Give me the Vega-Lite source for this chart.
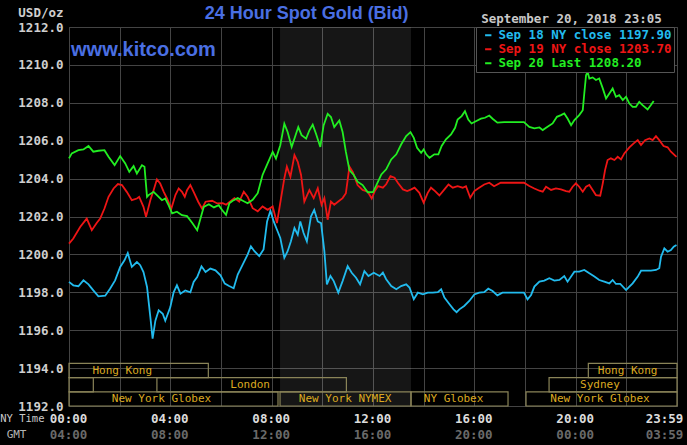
{
"$schema":"https://vega.github.io/schema/vega-lite/v6.json",
"width":608,"height":379,
"autosize":{"type":"none"},
"padding":{"left":69,"top":27,"right":10,"bottom":39},
"background":"#000000",
"config":{"view":{"stroke":"#444444"},"font":"DejaVu Sans Mono"},
"datasets":{
"prices":[
{"s":"18","h":0,"v":1198.55},{"s":"18","h":0.17,"v":1198.37},{"s":"18","h":0.37,"v":1198.32},{"s":"18","h":0.57,"v":1198.63},{"s":"18","h":0.77,"v":1198.42},{"s":"18","h":0.96,"v":1198.1},{"s":"18","h":1.16,"v":1197.79},{"s":"18","h":1.43,"v":1197.82},{"s":"18","h":1.62,"v":1198.19},{"s":"18","h":1.82,"v":1198.63},{"s":"18","h":2.02,"v":1199.34},{"s":"18","h":2.19,"v":1199.69},{"s":"18","h":2.32,"v":1200.07},{"s":"18","h":2.48,"v":1199.34},{"s":"18","h":2.68,"v":1199.6},{"s":"18","h":2.81,"v":1199.43},{"s":"18","h":2.94,"v":1199.07},{"s":"18","h":3.08,"v":1198.28},{"s":"18","h":3.21,"v":1196.7},{"s":"18","h":3.3,"v":1195.55},{"s":"18","h":3.41,"v":1196.5},{"s":"18","h":3.54,"v":1197.05},{"s":"18","h":3.7,"v":1196.87},{"s":"18","h":3.8,"v":1196.5},{"s":"18","h":4.0,"v":1197.22},{"s":"18","h":4.13,"v":1198.0},{"s":"18","h":4.26,"v":1198.37},{"s":"18","h":4.4,"v":1197.93},{"s":"18","h":4.59,"v":1198.1},{"s":"18","h":4.79,"v":1198.0},{"s":"18","h":4.92,"v":1198.55},{"s":"18","h":5.06,"v":1198.8},{"s":"18","h":5.23,"v":1199.37},{"s":"18","h":5.39,"v":1199.07},{"s":"18","h":5.58,"v":1199.25},{"s":"18","h":5.78,"v":1199.16},{"s":"18","h":5.98,"v":1198.9},{"s":"18","h":6.15,"v":1198.46},{"s":"18","h":6.32,"v":1198.33},{"s":"18","h":6.5,"v":1198.21},{"s":"18","h":6.66,"v":1198.94},{"s":"18","h":6.86,"v":1199.47},{"s":"18","h":7.05,"v":1199.99},{"s":"18","h":7.18,"v":1200.43},{"s":"18","h":7.32,"v":1200.17},{"s":"18","h":7.51,"v":1199.91},{"s":"18","h":7.68,"v":1200.26},{"s":"18","h":7.82,"v":1201.74},{"s":"18","h":7.95,"v":1202.3},{"s":"18","h":8.08,"v":1201.74},{"s":"18","h":8.21,"v":1201.3},{"s":"18","h":8.34,"v":1200.87},{"s":"18","h":8.5,"v":1199.82},{"s":"18","h":8.63,"v":1200.17},{"s":"18","h":8.76,"v":1200.69},{"s":"18","h":8.9,"v":1201.39},{"s":"18","h":9.03,"v":1201.04},{"s":"18","h":9.13,"v":1201.74},{"s":"18","h":9.26,"v":1201.13},{"s":"18","h":9.39,"v":1200.69},{"s":"18","h":9.55,"v":1202.0},{"s":"18","h":9.68,"v":1202.35},{"s":"18","h":9.82,"v":1201.74},{"s":"18","h":9.95,"v":1201.65},{"s":"18","h":10.08,"v":1200.17},{"s":"18","h":10.18,"v":1198.42},{"s":"18","h":10.32,"v":1198.86},{"s":"18","h":10.45,"v":1198.59},{"s":"18","h":10.63,"v":1197.98},{"s":"18","h":10.8,"v":1198.59},{"s":"18","h":11.0,"v":1199.38},{"s":"18","h":11.16,"v":1199.03},{"s":"18","h":11.33,"v":1198.77},{"s":"18","h":11.49,"v":1198.42},{"s":"18","h":11.66,"v":1199.12},{"s":"18","h":11.82,"v":1198.86},{"s":"18","h":12.03,"v":1199.03},{"s":"18","h":12.26,"v":1198.86},{"s":"18","h":12.39,"v":1199.04},{"s":"18","h":12.52,"v":1198.69},{"s":"18","h":12.72,"v":1198.33},{"s":"18","h":12.92,"v":1198.16},{"s":"18","h":13.11,"v":1198.33},{"s":"18","h":13.31,"v":1198.42},{"s":"18","h":13.44,"v":1198.25},{"s":"18","h":13.61,"v":1197.63},{"s":"18","h":13.77,"v":1197.98},{"s":"18","h":13.97,"v":1197.89},{"s":"18","h":14.16,"v":1197.98},{"s":"18","h":14.36,"v":1197.98},{"s":"18","h":14.56,"v":1198.01},{"s":"18","h":14.69,"v":1198.16},{"s":"18","h":14.82,"v":1197.72},{"s":"18","h":15.02,"v":1197.37},{"s":"18","h":15.18,"v":1197.1},{"s":"18","h":15.3,"v":1196.95},{"s":"18","h":15.41,"v":1197.1},{"s":"18","h":15.6,"v":1197.28},{"s":"18","h":15.8,"v":1197.54},{"s":"18","h":16.0,"v":1197.89},{"s":"18","h":16.19,"v":1197.98},{"s":"18","h":16.39,"v":1198.01},{"s":"18","h":16.55,"v":1198.19},{"s":"18","h":16.72,"v":1198.07},{"s":"18","h":16.91,"v":1197.84},{"s":"18","h":17.11,"v":1197.98},{"s":"18","h":17.44,"v":1197.98},{"s":"18","h":17.96,"v":1197.98},{"s":"18","h":18.1,"v":1197.63},{"s":"18","h":18.24,"v":1197.86},{"s":"18","h":18.37,"v":1198.3},{"s":"18","h":18.57,"v":1198.56},{"s":"18","h":18.76,"v":1198.62},{"s":"18","h":18.96,"v":1198.74},{"s":"18","h":19.16,"v":1198.62},{"s":"18","h":19.36,"v":1198.65},{"s":"18","h":19.55,"v":1198.86},{"s":"18","h":19.68,"v":1198.56},{"s":"18","h":19.82,"v":1198.83},{"s":"18","h":19.95,"v":1199.09},{"s":"18","h":20.14,"v":1199.09},{"s":"18","h":20.34,"v":1199.18},{"s":"18","h":20.54,"v":1199.0},{"s":"18","h":20.74,"v":1198.83},{"s":"18","h":20.93,"v":1198.65},{"s":"18","h":21.13,"v":1198.56},{"s":"18","h":21.33,"v":1198.47},{"s":"18","h":21.46,"v":1198.65},{"s":"18","h":21.59,"v":1198.44},{"s":"18","h":21.76,"v":1198.44},{"s":"18","h":21.99,"v":1198.12},{"s":"18","h":22.12,"v":1198.3},{"s":"18","h":22.25,"v":1198.47},{"s":"18","h":22.45,"v":1198.83},{"s":"18","h":22.58,"v":1199.14},{"s":"18","h":22.78,"v":1199.14},{"s":"18","h":22.97,"v":1199.14},{"s":"18","h":23.17,"v":1199.18},{"s":"18","h":23.3,"v":1199.27},{"s":"18","h":23.37,"v":1199.88},{"s":"18","h":23.5,"v":1200.32},{"s":"18","h":23.63,"v":1200.14},{"s":"18","h":23.76,"v":1200.23},{"s":"18","h":23.87,"v":1200.41},{"s":"18","h":23.98,"v":1200.5},
{"s":"19","h":0,"v":1200.57},{"s":"19","h":0.17,"v":1200.84},{"s":"19","h":0.44,"v":1201.45},{"s":"19","h":0.7,"v":1201.89},{"s":"19","h":0.9,"v":1201.28},{"s":"19","h":1.1,"v":1201.67},{"s":"19","h":1.23,"v":1201.89},{"s":"19","h":1.4,"v":1202.42},{"s":"19","h":1.56,"v":1203.04},{"s":"19","h":1.76,"v":1203.48},{"s":"19","h":1.93,"v":1203.71},{"s":"19","h":2.09,"v":1203.66},{"s":"19","h":2.28,"v":1203.3},{"s":"19","h":2.48,"v":1202.86},{"s":"19","h":2.68,"v":1202.95},{"s":"19","h":2.77,"v":1203.04},{"s":"19","h":2.94,"v":1202.51},{"s":"19","h":3.04,"v":1201.98},{"s":"19","h":3.21,"v":1202.86},{"s":"19","h":3.34,"v":1203.39},{"s":"19","h":3.47,"v":1203.96},{"s":"19","h":3.6,"v":1203.74},{"s":"19","h":3.74,"v":1203.3},{"s":"19","h":3.87,"v":1202.95},{"s":"19","h":4.04,"v":1202.42},{"s":"19","h":4.2,"v":1203.13},{"s":"19","h":4.33,"v":1203.48},{"s":"19","h":4.46,"v":1203.3},{"s":"19","h":4.57,"v":1203.04},{"s":"19","h":4.66,"v":1203.39},{"s":"19","h":4.79,"v":1203.66},{"s":"19","h":4.92,"v":1203.3},{"s":"19","h":5.1,"v":1202.78},{"s":"19","h":5.25,"v":1202.42},{"s":"19","h":5.39,"v":1202.78},{"s":"19","h":5.65,"v":1202.83},{"s":"19","h":5.85,"v":1202.69},{"s":"19","h":6.07,"v":1202.7},{"s":"19","h":6.2,"v":1202.62},{"s":"19","h":6.53,"v":1202.97},{"s":"19","h":6.72,"v":1202.79},{"s":"19","h":6.9,"v":1203.31},{"s":"19","h":7.05,"v":1203.05},{"s":"19","h":7.25,"v":1202.44},{"s":"19","h":7.45,"v":1202.27},{"s":"19","h":7.64,"v":1202.53},{"s":"19","h":7.84,"v":1202.35},{"s":"19","h":8.04,"v":1202.53},{"s":"19","h":8.21,"v":1201.65},{"s":"19","h":8.37,"v":1202.97},{"s":"19","h":8.5,"v":1204.01},{"s":"19","h":8.6,"v":1204.63},{"s":"19","h":8.74,"v":1204.1},{"s":"19","h":8.9,"v":1205.24},{"s":"19","h":9.03,"v":1204.89},{"s":"19","h":9.16,"v":1204.19},{"s":"19","h":9.29,"v":1202.79},{"s":"19","h":9.49,"v":1203.4},{"s":"19","h":9.66,"v":1202.97},{"s":"19","h":9.82,"v":1203.49},{"s":"19","h":9.97,"v":1202.62},{"s":"19","h":10.08,"v":1202.97},{"s":"19","h":10.21,"v":1201.83},{"s":"19","h":10.34,"v":1202.79},{"s":"19","h":10.47,"v":1202.62},{"s":"19","h":10.63,"v":1202.79},{"s":"19","h":10.8,"v":1202.97},{"s":"19","h":10.93,"v":1203.23},{"s":"19","h":11.07,"v":1204.63},{"s":"19","h":11.2,"v":1204.36},{"s":"19","h":11.39,"v":1203.66},{"s":"19","h":11.59,"v":1203.4},{"s":"19","h":11.79,"v":1203.31},{"s":"19","h":11.95,"v":1202.95},{"s":"19","h":12.07,"v":1203.34},{"s":"19","h":12.2,"v":1203.6},{"s":"19","h":12.39,"v":1203.52},{"s":"19","h":12.52,"v":1203.7},{"s":"19","h":12.69,"v":1204.13},{"s":"19","h":12.85,"v":1204.05},{"s":"19","h":12.98,"v":1203.78},{"s":"19","h":13.18,"v":1203.43},{"s":"19","h":13.35,"v":1203.34},{"s":"19","h":13.51,"v":1203.43},{"s":"19","h":13.64,"v":1203.52},{"s":"19","h":13.83,"v":1203.25},{"s":"19","h":14.0,"v":1202.73},{"s":"19","h":14.16,"v":1203.25},{"s":"19","h":14.29,"v":1203.52},{"s":"19","h":14.45,"v":1203.34},{"s":"19","h":14.62,"v":1203.11},{"s":"19","h":14.82,"v":1203.43},{"s":"19","h":14.98,"v":1203.69},{"s":"19","h":15.15,"v":1203.52},{"s":"19","h":15.34,"v":1203.6},{"s":"19","h":15.54,"v":1203.52},{"s":"19","h":15.67,"v":1203.6},{"s":"19","h":15.84,"v":1202.99},{"s":"19","h":16.0,"v":1203.34},{"s":"19","h":16.19,"v":1203.52},{"s":"19","h":16.39,"v":1203.69},{"s":"19","h":16.59,"v":1203.78},{"s":"19","h":16.78,"v":1203.6},{"s":"19","h":17.04,"v":1203.78},{"s":"19","h":17.44,"v":1203.78},{"s":"19","h":17.96,"v":1203.78},{"s":"19","h":18.17,"v":1203.61},{"s":"19","h":18.37,"v":1203.48},{"s":"19","h":18.57,"v":1203.36},{"s":"19","h":18.7,"v":1203.31},{"s":"19","h":18.83,"v":1203.57},{"s":"19","h":19.03,"v":1203.4},{"s":"19","h":19.22,"v":1203.48},{"s":"19","h":19.42,"v":1203.43},{"s":"19","h":19.62,"v":1203.34},{"s":"19","h":19.75,"v":1203.31},{"s":"19","h":19.88,"v":1203.57},{"s":"19","h":20.01,"v":1203.75},{"s":"19","h":20.14,"v":1203.57},{"s":"19","h":20.28,"v":1203.31},{"s":"19","h":20.41,"v":1203.57},{"s":"19","h":20.54,"v":1203.66},{"s":"19","h":20.67,"v":1203.4},{"s":"19","h":20.8,"v":1203.13},{"s":"19","h":20.97,"v":1203.1},{"s":"19","h":21.07,"v":1203.75},{"s":"19","h":21.16,"v":1204.45},{"s":"19","h":21.26,"v":1204.98},{"s":"19","h":21.39,"v":1205.07},{"s":"19","h":21.53,"v":1204.98},{"s":"19","h":21.66,"v":1205.15},{"s":"19","h":21.79,"v":1205.01},{"s":"19","h":21.92,"v":1205.33},{"s":"19","h":22.12,"v":1205.65},{"s":"19","h":22.29,"v":1205.86},{"s":"19","h":22.45,"v":1206.03},{"s":"19","h":22.58,"v":1205.77},{"s":"19","h":22.74,"v":1206.03},{"s":"19","h":22.91,"v":1206.12},{"s":"19","h":23.04,"v":1206.03},{"s":"19","h":23.17,"v":1206.24},{"s":"19","h":23.3,"v":1206.03},{"s":"19","h":23.47,"v":1205.72},{"s":"19","h":23.63,"v":1205.65},{"s":"19","h":23.76,"v":1205.42},{"s":"19","h":23.98,"v":1205.15},
{"s":"20","h":0,"v":1205.07},{"s":"20","h":0.11,"v":1205.33},{"s":"20","h":0.37,"v":1205.5},{"s":"20","h":0.57,"v":1205.54},{"s":"20","h":0.77,"v":1205.72},{"s":"20","h":0.96,"v":1205.42},{"s":"20","h":1.16,"v":1205.47},{"s":"20","h":1.4,"v":1205.5},{"s":"20","h":1.56,"v":1205.15},{"s":"20","h":1.8,"v":1204.71},{"s":"20","h":2.02,"v":1205.19},{"s":"20","h":2.22,"v":1204.8},{"s":"20","h":2.38,"v":1204.36},{"s":"20","h":2.55,"v":1204.66},{"s":"20","h":2.68,"v":1204.27},{"s":"20","h":2.88,"v":1204.71},{"s":"20","h":2.98,"v":1204.63},{"s":"20","h":3.08,"v":1203.04},{"s":"20","h":3.14,"v":1203.13},{"s":"20","h":3.34,"v":1203.3},{"s":"20","h":3.54,"v":1203.04},{"s":"20","h":3.67,"v":1202.86},{"s":"20","h":3.8,"v":1202.95},{"s":"20","h":3.93,"v":1202.6},{"s":"20","h":4.07,"v":1202.16},{"s":"20","h":4.26,"v":1202.25},{"s":"20","h":4.46,"v":1202.07},{"s":"20","h":4.66,"v":1202.02},{"s":"20","h":4.86,"v":1201.67},{"s":"20","h":5.06,"v":1201.28},{"s":"20","h":5.19,"v":1201.9},{"s":"20","h":5.32,"v":1202.51},{"s":"20","h":5.52,"v":1202.65},{"s":"20","h":5.72,"v":1202.48},{"s":"20","h":5.91,"v":1202.6},{"s":"20","h":6.05,"v":1202.33},{"s":"20","h":6.2,"v":1202.09},{"s":"20","h":6.33,"v":1202.7},{"s":"20","h":6.46,"v":1202.83},{"s":"20","h":6.66,"v":1202.97},{"s":"20","h":6.86,"v":1202.83},{"s":"20","h":7.05,"v":1202.7},{"s":"20","h":7.25,"v":1202.88},{"s":"20","h":7.45,"v":1203.23},{"s":"20","h":7.64,"v":1204.19},{"s":"20","h":7.84,"v":1204.8},{"s":"20","h":8.04,"v":1205.41},{"s":"20","h":8.17,"v":1205.06},{"s":"20","h":8.34,"v":1205.76},{"s":"20","h":8.5,"v":1206.9},{"s":"20","h":8.63,"v":1206.46},{"s":"20","h":8.79,"v":1205.67},{"s":"20","h":8.92,"v":1206.2},{"s":"20","h":9.05,"v":1206.72},{"s":"20","h":9.18,"v":1206.29},{"s":"20","h":9.36,"v":1206.11},{"s":"20","h":9.49,"v":1206.55},{"s":"20","h":9.62,"v":1206.85},{"s":"20","h":9.75,"v":1206.37},{"s":"20","h":9.92,"v":1205.67},{"s":"20","h":10.05,"v":1206.81},{"s":"20","h":10.21,"v":1207.42},{"s":"20","h":10.34,"v":1207.25},{"s":"20","h":10.47,"v":1206.72},{"s":"20","h":10.67,"v":1207.07},{"s":"20","h":10.8,"v":1206.46},{"s":"20","h":10.93,"v":1205.41},{"s":"20","h":11.07,"v":1204.45},{"s":"20","h":11.24,"v":1204.19},{"s":"20","h":11.39,"v":1203.84},{"s":"20","h":11.59,"v":1203.66},{"s":"20","h":11.79,"v":1203.28},{"s":"20","h":12.0,"v":1203.29},{"s":"20","h":12.13,"v":1203.64},{"s":"20","h":12.33,"v":1204.22},{"s":"20","h":12.52,"v":1204.49},{"s":"20","h":12.72,"v":1205.01},{"s":"20","h":12.92,"v":1205.28},{"s":"20","h":13.11,"v":1205.8},{"s":"20","h":13.31,"v":1206.24},{"s":"20","h":13.48,"v":1206.45},{"s":"20","h":13.61,"v":1206.15},{"s":"20","h":13.74,"v":1205.63},{"s":"20","h":13.9,"v":1205.36},{"s":"20","h":14.0,"v":1205.54},{"s":"20","h":14.1,"v":1205.28},{"s":"20","h":14.23,"v":1205.1},{"s":"20","h":14.42,"v":1205.28},{"s":"20","h":14.58,"v":1205.28},{"s":"20","h":14.71,"v":1205.72},{"s":"20","h":14.88,"v":1206.07},{"s":"20","h":15.08,"v":1206.33},{"s":"20","h":15.24,"v":1206.68},{"s":"20","h":15.34,"v":1207.12},{"s":"20","h":15.5,"v":1207.3},{"s":"20","h":15.63,"v":1207.56},{"s":"20","h":15.76,"v":1207.12},{"s":"20","h":15.89,"v":1206.91},{"s":"20","h":16.06,"v":1207.03},{"s":"20","h":16.26,"v":1207.16},{"s":"20","h":16.42,"v":1207.21},{"s":"20","h":16.59,"v":1207.33},{"s":"20","h":16.72,"v":1207.16},{"s":"20","h":16.91,"v":1206.95},{"s":"20","h":17.18,"v":1206.98},{"s":"20","h":17.44,"v":1206.98},{"s":"20","h":17.96,"v":1206.98},{"s":"20","h":18.17,"v":1206.73},{"s":"20","h":18.37,"v":1206.65},{"s":"20","h":18.57,"v":1206.7},{"s":"20","h":18.7,"v":1206.56},{"s":"20","h":18.89,"v":1206.73},{"s":"20","h":19.09,"v":1206.91},{"s":"20","h":19.26,"v":1207.26},{"s":"20","h":19.42,"v":1207.35},{"s":"20","h":19.55,"v":1207.44},{"s":"20","h":19.68,"v":1207.17},{"s":"20","h":19.82,"v":1206.82},{"s":"20","h":19.95,"v":1207.09},{"s":"20","h":20.14,"v":1207.35},{"s":"20","h":20.28,"v":1207.61},{"s":"20","h":20.34,"v":1208.49},{"s":"20","h":20.41,"v":1209.46},{"s":"20","h":20.47,"v":1209.63},{"s":"20","h":20.54,"v":1209.28},{"s":"20","h":20.67,"v":1209.34},{"s":"20","h":20.8,"v":1209.2},{"s":"20","h":20.93,"v":1209.28},{"s":"20","h":21.07,"v":1208.76},{"s":"20","h":21.2,"v":1208.23},{"s":"20","h":21.33,"v":1208.49},{"s":"20","h":21.46,"v":1208.76},{"s":"20","h":21.59,"v":1208.32},{"s":"20","h":21.72,"v":1208.4},{"s":"20","h":21.86,"v":1208.14},{"s":"20","h":21.99,"v":1208.32},{"s":"20","h":22.12,"v":1207.96},{"s":"20","h":22.25,"v":1207.79},{"s":"20","h":22.38,"v":1207.79},{"s":"20","h":22.51,"v":1208.05},{"s":"20","h":22.64,"v":1207.88},{"s":"20","h":22.84,"v":1207.65},{"s":"20","h":22.97,"v":1207.88},{"s":"20","h":23.08,"v":1208.1}
],
"sessions":[
{"name":"Hong Kong","start":0,"end":5.5,"lo":1193.5,"hi":1194.25,"at":2.1},
{"name":"Hong Kong","start":20.5,"end":24,"lo":1193.5,"hi":1194.25,"at":22.05},
{"name":"","start":0,"end":0.96,"lo":1192.75,"hi":1193.5,"at":0.5},
{"name":"London","start":3.47,"end":10.95,"lo":1192.75,"hi":1193.5,"at":7.15},
{"name":"Sydney","start":18.95,"end":24,"lo":1192.75,"hi":1193.5,"at":20.96},
{"name":"New York Globex","start":0,"end":8.25,"lo":1192,"hi":1192.75,"at":3.65},
{"name":"New York NYMEX","start":8.33,"end":13.5,"lo":1192,"hi":1192.75,"at":10.9},
{"name":"NY Globex","start":13.5,"end":17.33,"lo":1192,"hi":1192.75,"at":15.18},
{"name":"New York Globex","start":18.04,"end":24,"lo":1192,"hi":1192.75,"at":20.96}
],
"nymex":[{"a":8.33,"b":13.5}],
"one":[{}]
},
"layer":[
{"data":{"name":"nymex"},
 "mark":{"type":"rect","fill":"#ffffff","opacity":0.085},
 "encoding":{"x":{"field":"a","type":"quantitative","axis":null},"x2":{"field":"b"}}},
{"data":{"name":"prices"},
 "mark":{"type":"line","strokeWidth":1.8},
 "encoding":{
  "x":{"field":"h","type":"quantitative","scale":{"domain":[0,24],"nice":false,"zero":false},
   "axis":{"values":[0,2,4,6,8,10,12,14,16,18,20,22,24],"grid":true,"gridColor":"#444444","domain":false,"ticks":false,
    "labelExpr":"datum.value == 24 ? '23:59' : (datum.value % 4 == 0 ? ((datum.value < 10 ? '0' : '') + datum.value + ':00') : '')",
    "labelColor":"#dcdcdc","labelFont":"DejaVu Sans Mono","labelFontWeight":"bold","labelFontSize":12.5,"labelPadding":6,"labelFlush":false,"labelOverlap":false,
    "labelOffset":{"condition":{"test":"datum.value == 24","value":-13},"value":-1},
    "title":"NY Time","titleAngle":0,"titleX":-25,"titleY":12,"titleAlign":"right","titleBaseline":"middle","titleFont":"DejaVu Sans Mono","titleFontWeight":"normal","titleFontSize":10.5,"titleColor":"#c8c8c8"}},
  "y":{"field":"v","type":"quantitative","scale":{"domain":[1192,1212],"nice":false,"zero":false},
   "axis":{"orient":"left","values":[1192,1194,1196,1198,1200,1202,1204,1206,1208,1210,1212],"format":".1f","grid":true,"gridColor":"#444444","domain":false,"ticks":false,
    "labelColor":"#cfcfcf","labelFont":"DejaVu Sans Mono","labelFontWeight":"bold","labelFontSize":12.5,"labelPadding":6,
    "title":"USD/oz","titleAngle":0,"titleAlign":"right","titleBaseline":"middle","titleX":-6,"titleY":-15,"titleFont":"DejaVu Sans Mono","titleFontWeight":"bold","titleFontSize":12.5,"titleColor":"#cfcfcf"}},
  "color":{"field":"s","type":"nominal","scale":{"domain":["18","19","20"],"range":["#22bbee","#ee1515","#22ee22"]},
   "legend":{"orient":"none","legendX":407,"legendY":0,"direction":"vertical","title":null,"fillColor":"#000000","strokeColor":"#555555","padding":2,"rowPadding":1,
    "symbolType":"stroke","symbolSize":40,"symbolStrokeWidth":2,"symbolOffset":4,"labelOffset":4,
    "labelFont":"DejaVu Sans Mono","labelFontWeight":"bold","labelFontSize":12.5,"labelLimit":300,
    "labelExpr":"datum.value == '18' ? 'Sep 18 NY close 1197.90' : (datum.value == '19' ? 'Sep 19 NY close 1203.70' : 'Sep 20 Last 1208.20')",
    "encode":{"labels":{"update":{"fill":{"scale":"color","field":"value"}}}}}}
 }},
{"data":{"name":"sessions"},
 "mark":{"type":"rect","fill":null,"stroke":"#8a8458","strokeWidth":1.2},
 "encoding":{"x":{"field":"start","type":"quantitative","axis":null},"x2":{"field":"end"},
  "y":{"field":"lo","type":"quantitative","axis":null},"y2":{"field":"hi"}}},
{"data":{"name":"sessions"},
 "mark":{"type":"text","align":"center","baseline":"alphabetic","dy":-4,"font":"DejaVu Sans Mono","fontSize":11,"color":"#dcaa20"},
 "encoding":{
  "x":{"field":"at","type":"quantitative",
   "axis":{"orient":"bottom","values":[0,4,8,12,16,20,24],"grid":false,"domain":false,"ticks":false,
    "labelExpr":"datum.value == 24 ? '03:59' : ((((datum.value + 4) % 24) < 10 ? '0' : '') + ((datum.value + 4) % 24) + ':00')",
    "labelColor":"#6a6a6a","labelFont":"DejaVu Sans Mono","labelFontWeight":"bold","labelFontSize":12.5,"labelPadding":22,"labelFlush":false,"labelOverlap":false,
    "labelOffset":{"condition":{"test":"datum.value == 24","value":-13},"value":-1},
    "title":"GMT","titleAngle":0,"titleX":-43,"titleY":28,"titleAlign":"right","titleBaseline":"middle","titleFont":"DejaVu Sans Mono","titleFontWeight":"normal","titleFontSize":11,"titleColor":"#b4b4b4"}},
  "y":{"field":"lo","type":"quantitative","axis":null},
  "text":{"field":"name"}}},
{"data":{"name":"one"},
 "mark":{"type":"text","align":"left","baseline":"middle","font":"Liberation Sans","fontSize":20,"fontWeight":"bold","color":"#4a6fe3"},
 "encoding":{"x":{"datum":0.08,"type":"quantitative","axis":null},"y":{"datum":1210.8,"type":"quantitative","axis":null},"text":{"value":"www.kitco.com"}}},
{"data":{"name":"one"},
 "mark":{"type":"text","align":"left","baseline":"middle","font":"DejaVu Sans Mono","fontWeight":"bold","fontSize":12.5,"color":"#c8c8c8"},
 "encoding":{"x":{"datum":16.27,"type":"quantitative","axis":null},"y":{"datum":1212.42,"type":"quantitative","axis":null},"text":{"value":"September 20, 2018 23:05"}}},
{"data":{"name":"one"},
 "mark":{"type":"text","align":"center","baseline":"middle","font":"Liberation Sans","fontSize":18,"fontWeight":"bold","color":"#4a6fe3"},
 "encoding":{"x":{"datum":9.38,"type":"quantitative","axis":null},"y":{"datum":1212.69,"type":"quantitative","axis":null},"text":{"value":"24 Hour Spot Gold (Bid)"}}}
],
"resolve":{"axis":{"x":"independent","y":"independent"}}
}
